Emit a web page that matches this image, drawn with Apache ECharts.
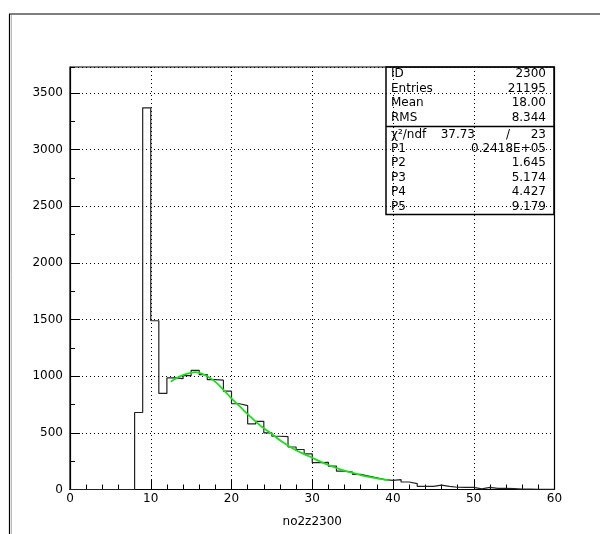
<!DOCTYPE html>
<html>
<head>
<meta charset="utf-8">
<script src="https://cdn.jsdelivr.net/npm/echarts@6/dist/echarts.min.js"></script>
<style>
    html, body { margin: 0; padding: 0; background: #fff; }
    #histChart { width: 600px; height: 534px; }
</style>
</head>
<body>
<div id="histChart"></div>
<script>
// histogram bins (low edge, width 1)
var binLow = [8, 9, 10, 11, 12, 13, 14, 15, 16, 17, 18, 19, 20, 21, 22, 23, 24, 25, 26, 27, 28, 29,
    30, 31, 32, 33, 34, 35, 36, 37, 38, 39, 40, 41, 42, 43, 44, 45, 46, 47, 48, 49,
    50, 51, 52, 53, 54, 55, 56, 57, 58, 59];
var binCounts = [680, 3370, 1490, 848, 985, 978, 1005, 1052, 1015, 970, 965, 868, 757, 740, 580, 602, 500, 470, 466, 375, 353, 315,
    238, 240, 206, 162, 153, 133, 118, 103, 88, 80, 88, 66, 52, 28, 27, 38, 28, 20, 19, 18,
    5, 18, 10, 10, 8, 4, 3, 2, 2, 1];

// fitted curve (green)
var fitX = [12.5, 13, 14, 15, 15.5, 16, 17, 18, 19, 20, 21, 22, 23, 24, 25, 26, 27, 28, 29, 30,
    31, 32, 33, 34, 35, 36, 37, 38, 39, 39.5];
var fitY = [951, 975, 1010, 1030, 1036, 1030, 1000, 950, 880, 805, 736, 665, 600, 540, 490, 435, 388, 347, 312, 280,
    246, 216, 190, 166, 146, 128, 112, 98, 86, 80];

var xTicks = [0, 10, 20, 30, 40, 50, 60];
var yTicks = [0, 500, 1000, 1500, 2000, 2500, 3000, 3500];

// stats box rows
var statLabels = ['ID', 'Entries', 'Mean', 'RMS'];
var statValues = ['2300', '21195', '18.00', '8.344'];
var fitLabels = ['P1', 'P2', 'P3', 'P4', 'P5'];
var fitValues = ['0.2418E+05', '1.645', '5.174', '4.427', '9.179'];
var chi2 = '37.73', ndf = '23';

window.onload = function () {
    initHistChart();
};

function initHistChart() {
    var chart = echarts.init(document.getElementById('histChart'), null, {renderer: 'canvas'});
    var font = 'DejaVu Sans';

    // outline of the histogram as a step line
    var steps = [[0, 0]];
    for (var i = 0; i < binLow.length; i++) {
        steps.push([binLow[i], binCounts[i]]);
    }
    steps.push([60, 0]);

    var fit = [];
    for (var j = 0; j < fitX.length; j++) {
        fit.push([fitX[j], fitY[j]]);
    }

    var gridL = 70, gridT = 67, gridR = 554.5, gridB = 489.5;
    var yMax = 3730;

    // stats box
    var boxL = 386, boxR = 554, boxT = gridT, boxB = 214.5, boxMid = 126.5;
    var txtL = boxL + 5, txtR = boxR - 8;
    var rowY1 = [74, 88.5, 103, 117.5];
    var rowY2 = [148.5, 163, 177.5, 192, 206.5];
    var g = [];
    function txt(x, y, s, align) {
        g.push({
            type: 'text', left: null, x: x, y: y, z: 100,
            style: {text: s, x: 0, y: 0, fill: '#000', font: '12px "' + font + '"',
                textAlign: align || 'left', textVerticalAlign: 'middle'}
        });
    }
    g.push({type: 'rect', z: 99, shape: {x: boxL, y: boxT, width: boxR - boxL, height: boxB - boxT},
        style: {fill: 'none', stroke: '#000', lineWidth: 1.5}});
    g.push({type: 'line', z: 99, shape: {x1: boxL, y1: boxMid, x2: boxR, y2: boxMid},
        style: {stroke: '#000', lineWidth: 1.5}});
    for (var k = 0; k < statLabels.length; k++) {
        txt(txtL, rowY1[k], statLabels[k]);
        txt(txtR, rowY1[k], statValues[k], 'right');
    }
    txt(txtL, 134.5, 'χ²/ndf');
    txt(475, 134.5, chi2, 'right');
    txt(508, 134.5, '/', 'center');
    txt(txtR, 134.5, ndf, 'right');
    for (var m = 0; m < fitLabels.length; m++) {
        txt(txtL, rowY2[m], fitLabels[m]);
        txt(txtR, rowY2[m], fitValues[m], 'right');
    }
    // page frame
    g.push({type: 'line', shape: {x1: 9, y1: 14, x2: 600, y2: 14}, style: {stroke: '#000', lineWidth: 1.2}});
    g.push({type: 'line', shape: {x1: 9.5, y1: 14, x2: 9.5, y2: 534}, style: {stroke: '#000', lineWidth: 1.2}});
    g.push({type: 'line', shape: {x1: 11.5, y1: 15, x2: 11.5, y2: 534}, style: {stroke: '#bbb', lineWidth: 1}});

    var option = {
        backgroundColor: '#fff',
        animation: false,
        textStyle: {fontFamily: font},
        grid: {
            left: gridL, top: gridT,
            width: gridR - gridL, height: gridB - gridT,
            show: true, borderColor: '#000', borderWidth: 1.2,
            containLabel: false
        },
        xAxis: [{
            type: 'value', min: 0, max: 60, interval: 10,
            name: 'no2z2300', nameLocation: 'middle', nameGap: 26,
            nameTextStyle: {color: '#000', fontSize: 12, fontFamily: font},
            axisLine: {show: true, lineStyle: {color: '#000', width: 1.2}},
            axisTick: {show: true, inside: true, length: 10, lineStyle: {color: '#000'}},
            minorTick: {show: true, splitNumber: 5, length: 5, lineStyle: {color: '#000'}},
            axisLabel: {color: '#000', fontSize: 12, fontFamily: font, margin: 3,
                formatter: function (v) { return xTicks.indexOf(v) >= 0 ? String(v) : ''; }},
            splitLine: {show: true, lineStyle: {color: '#000', type: [1, 3], width: 1}}
        }],
        yAxis: [{
            type: 'value', min: 0, max: yMax, interval: 500,
            axisLine: {show: true, lineStyle: {color: '#000', width: 1.2}},
            axisTick: {show: true, inside: true, length: 10, lineStyle: {color: '#000'}},
            axisLabel: {color: '#000', fontSize: 12, fontFamily: font, margin: 7, showMaxLabel: false,
                formatter: function (v) { return yTicks.indexOf(v) >= 0 ? String(v) : ''; }},
            splitLine: {show: true, lineStyle: {color: '#000', type: [1, 3], width: 1}}
        }, {
            // minor ticks every 250
            type: 'value', min: 0, max: yMax, interval: 250, position: 'left',
            axisLine: {show: false},
            axisTick: {show: true, inside: true, length: 5, lineStyle: {color: '#000'}},
            axisLabel: {show: false},
            splitLine: {show: false}
        }],
        series: [{
            name: 'no2z2300',
            type: 'line',
            step: 'end',
            data: steps,
            showSymbol: false,
            symbol: 'none',
            lineStyle: {color: '#222', width: 1.2},
            z: 3
        }, {
            name: 'fit',
            type: 'line',
            smooth: true,
            data: fit,
            showSymbol: false,
            symbol: 'none',
            lineStyle: {color: '#19e019', width: 1.8},
            z: 4
        }],
        graphic: g
    };
    chart.setOption(option);
}
</script>
</body>
</html>
